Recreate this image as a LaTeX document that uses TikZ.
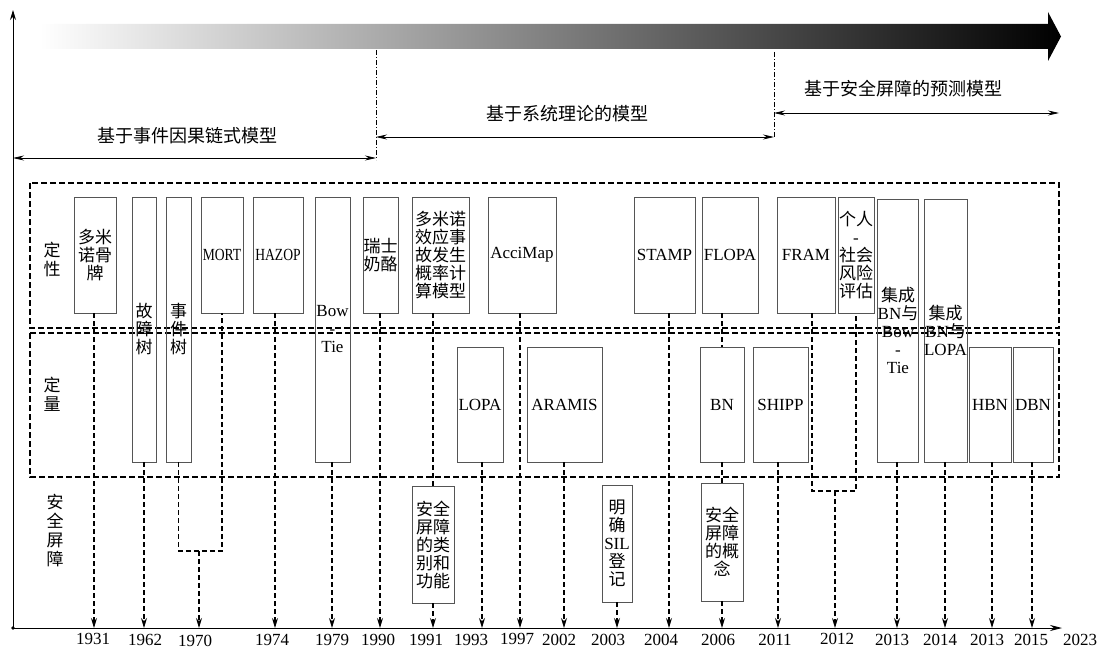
\documentclass[tikz,border=0pt]{standalone}
\usepackage{fontspec}
\usepackage{graphicx}
\setmainfont{Liberation Serif}
\newfontfamily\cjk{Noto Sans CJK SC}
\usetikzlibrary{arrows.meta}
\definecolor{boxgray}{RGB}{85,85,85}
\newcommand\en[1]{{\rmfamily #1}}
\begin{document}
\begin{tikzpicture}[x=1pt,y=-1pt,
  mbox/.style={draw=boxgray,line width=0.9pt,inner sep=0pt,align=center,font=\cjk\fontsize{17}{18}\selectfont},
  latbox/.style={font=\rmfamily\fontsize{17}{18}\selectfont},
  conn/.style={line width=1.1pt,dash pattern=on 5pt off 3pt},
  downarr/.style={-{Stealth[length=10pt,width=6pt]}},
  outerbox/.style={line width=1.1pt,dash pattern=on 6pt off 3pt},
  yearlbl/.style={font=\rmfamily\fontsize{17}{18}\selectfont,inner sep=0pt},
  sidelbl/.style={font=\cjk\fontsize{17}{19}\selectfont,align=center,inner sep=0pt},
  eralbl/.style={font=\cjk\fontsize{18}{20}\selectfont,inner sep=0pt},
  spanarr/.style={line width=0.8pt,{Stealth[length=11pt,width=5pt]}-{Stealth[length=11pt,width=5pt]}},
  ddotline/.style={line width=0.8pt,dash pattern=on 5pt off 2pt on 1pt off 2pt}
]
\useasboundingbox (0,0) rectangle (1101,650);

% gradient arrow
\shade[left color=white,right color=black] (40,24) -- (1048,24) -- (1048,12) -- (1061,36.5) -- (1048,61) -- (1048,49) -- (40,49) -- cycle;

% axes
\coordinate (O) at (13,628);
\coordinate (ytop) at (13,10);
\coordinate (xend) at (1062,628);
\draw[line width=0.9pt,-{Stealth[length=10pt,width=6pt]}] (O) -- (ytop);
\draw[line width=0.9pt,-{Stealth[length=12pt,width=6pt]}] (O) -- (xend);
\fill (O) circle (1.8);

% era separators and spans
\coordinate (d1a) at (376,50);  \coordinate (d1b) at (376,160);
\coordinate (d2a) at (774,52);  \coordinate (d2b) at (774,137);
\draw[ddotline] (d1a) -- (d1b);
\draw[ddotline] (d2a) -- (d2b);
\coordinate (s1a) at (13,158);  \coordinate (s1b) at (376,158);
\coordinate (s2a) at (376,137); \coordinate (s2b) at (774,137);
\coordinate (s3a) at (774,113); \coordinate (s3b) at (1059,113);
\draw[spanarr] (s1a) -- (s1b);
\draw[spanarr] (s2a) -- (s2b);
\draw[spanarr] (s3a) -- (s3b);
\node[eralbl] (e1) at (187,136) {基于事件因果链式模型};
\node[eralbl] (e2) at (567,114) {基于系统理论的模型};
\node[eralbl] (e3) at (903,89) {基于安全屏障的预测模型};

% outer dashed regions
\draw[outerbox] (30,183) rectangle (1059,328);
\draw[outerbox] (30,333) rectangle (1059,477);
\node[sidelbl] (l1) at (52,259) {定\\性};
\node[sidelbl] (l2) at (52,394) {定\\量};
\node[sidelbl] (l3) at (55,531) {安\\全\\屏\\障};

% model boxes
\node[mbox,minimum width=42,minimum height=116] (dom) at (95,255) {多米\\诺骨\\牌};
\node[mbox,minimum width=24,minimum height=265] (ft) at (144,329.5) {故\\障\\树};
\node[mbox,minimum width=25,minimum height=265] (et) at (178.5,329.5) {事\\件\\树};
\node[mbox,latbox,minimum width=42,minimum height=116] (mort) at (222,255) {\scalebox{0.8}[1]{MORT}};
\node[mbox,latbox,minimum width=50,minimum height=116] (hazop) at (278,255) {\scalebox{0.8}[1]{HAZOP}};
\node[mbox,latbox,minimum width=35,minimum height=265] (bow) at (332.5,329.5) {Bow\\-\\Tie};
\node[mbox,minimum width=35,minimum height=116] (swiss) at (380.5,255) {瑞士\\奶酪};
\node[mbox,minimum width=57,minimum height=116] (deff) at (440.5,255) {多米诺\\效应事\\故发生\\概率计\\算模型};
\node[mbox,latbox,minimum width=68,minimum height=116] (acci) at (522,255) {AcciMap};
\node[mbox,latbox,minimum width=61,minimum height=116] (stamp) at (664.5,255) {STAMP};
\node[mbox,latbox,minimum width=56,minimum height=116] (flopa) at (730,255) {FLOPA};
\node[mbox,latbox,minimum width=58,minimum height=116] (fram) at (806,255) {FRAM};
\node[mbox,minimum width=36,minimum height=116] (indiv) at (856,255) {个人\\\en{-}\\社会\\风险\\评估};
\node[mbox,minimum width=36,minimum height=263] (ibow) at (898,330.5) {集成\\\en{BN}与\\\en{Bow}\\\en{-}\\\en{Tie}};
\node[mbox,minimum width=43,minimum height=263] (ilopa) at (945.5,330.5) {集成\\\en{BN}与\\\en{LOPA}};
\node[mbox,latbox,minimum width=46,minimum height=115] (lopa) at (480,404.5) {LOPA};
\node[mbox,latbox,minimum width=75,minimum height=115] (aramis) at (564.5,404.5) {ARAMIS};
\node[mbox,latbox,minimum width=44,minimum height=115] (bn) at (722,404.5) {BN};
\node[mbox,latbox,minimum width=55,minimum height=115] (shipp) at (780.5,404.5) {SHIPP};
\node[mbox,latbox,minimum width=42,minimum height=115] (hbn) at (990,404.5) {HBN};
\node[mbox,latbox,minimum width=40,minimum height=115] (dbn) at (1033,404.5) {DBN};

% safety barrier boxes
\node[mbox,minimum width=42,minimum height=117] (b1991) at (433,544.5) {安全\\屏障\\的类\\别和\\功能};
\node[mbox,minimum width=30,minimum height=117] (b2003) at (617,543.5) {明\\确\\\en{SIL}\\登\\记};
\node[mbox,minimum width=42,minimum height=118] (b2006) at (722,542) {安全\\屏障\\的概\\念};

% axis points
\coordinate (a1931) at (94,628);
\coordinate (a1962) at (144,628);
\coordinate (a1970) at (199,628);
\coordinate (a1974) at (275,628);
\coordinate (a1979) at (332,628);
\coordinate (a1990) at (380,628);
\coordinate (a1991) at (433,628);
\coordinate (a1993) at (482,628);
\coordinate (a1997) at (520,628);
\coordinate (a2002) at (564,628);
\coordinate (a2003) at (617,628);
\coordinate (a2004) at (669,628);
\coordinate (a2006) at (722,628);
\coordinate (a2011) at (778,628);
\coordinate (a2012) at (835,628);
\coordinate (a2013) at (897,628);
\coordinate (a2014) at (945,628);
\coordinate (a2013b) at (992,628);
\coordinate (a2015) at (1032,628);
\coordinate (br70) at (199,551);
\coordinate (br12) at (812,491);

% connectors
\draw[conn,downarr] (a1931 |- dom.south) -- (a1931);
\draw[conn,downarr] (a1962 |- ft.south) -- (a1962);
\draw[conn] (et.south) -- (et.south |- br70) -- (mort.south |- br70) -- (mort.south);
\draw[conn,downarr] (br70) -- (a1970);
\draw[conn,downarr] (a1974 |- hazop.south) -- (a1974);
\draw[conn,downarr] (a1979 |- bow.south) -- (a1979);
\draw[conn,downarr] (a1990 |- swiss.south) -- (a1990);
\draw[conn] (a1991 |- deff.south) -- (b1991.north);
\draw[conn,downarr] (b1991.south) -- (a1991);
\draw[conn,downarr] (a1993 |- lopa.south) -- (a1993);
\draw[conn,downarr] (a1997 |- acci.south) -- (a1997);
\draw[conn,downarr] (a2002 |- aramis.south) -- (a2002);
\draw[conn,downarr] (b2003.south) -- (a2003);
\draw[conn,downarr] (a2004 |- stamp.south) -- (a2004);
\draw[conn] (a2006 |- flopa.south) -- (bn.north);
\draw[conn] (bn.south) -- (b2006.north);
\draw[conn,downarr] (b2006.south) -- (a2006);
\draw[conn,downarr] (a2011 |- shipp.south) -- (a2011);
\draw[conn] (br12 |- fram.south) -- (br12) -- (indiv.south |- br12) -- (indiv.south);
\draw[conn,downarr] (a2012 |- br12) -- (a2012);
\draw[conn,downarr] (a2013 |- ibow.south) -- (a2013);
\draw[conn,downarr] (a2014 |- ilopa.south) -- (a2014);
\draw[conn,downarr] (a2013b |- hbn.south) -- (a2013b);
\draw[conn,downarr] (a2015 |- dbn.south) -- (a2015);

% year labels
\node[yearlbl] (y1) at (93,639) {1931};
\node[yearlbl] (y2) at (145,640) {1962};
\node[yearlbl] (y3) at (195,641) {1970};
\node[yearlbl] (y4) at (272,640) {1974};
\node[yearlbl] (y5) at (332,640) {1979};
\node[yearlbl] (y6) at (378,640) {1990};
\node[yearlbl] (y7) at (426,640) {1991};
\node[yearlbl] (y8) at (471,640) {1993};
\node[yearlbl] (y9) at (517,639) {1997};
\node[yearlbl] (y10) at (559,640) {2002};
\node[yearlbl] (y11) at (608,640) {2003};
\node[yearlbl] (y12) at (661,640) {2004};
\node[yearlbl] (y13) at (718,640) {2006};
\node[yearlbl] (y14) at (775,640) {2011};
\node[yearlbl] (y15) at (837,639) {2012};
\node[yearlbl] (y16) at (892,640) {2013};
\node[yearlbl] (y17) at (940,640) {2014};
\node[yearlbl] (y18) at (987,640) {2013};
\node[yearlbl] (y19) at (1031,640) {2015};
\node[yearlbl] (y20) at (1080,640) {2023};
\end{tikzpicture}
\end{document}
